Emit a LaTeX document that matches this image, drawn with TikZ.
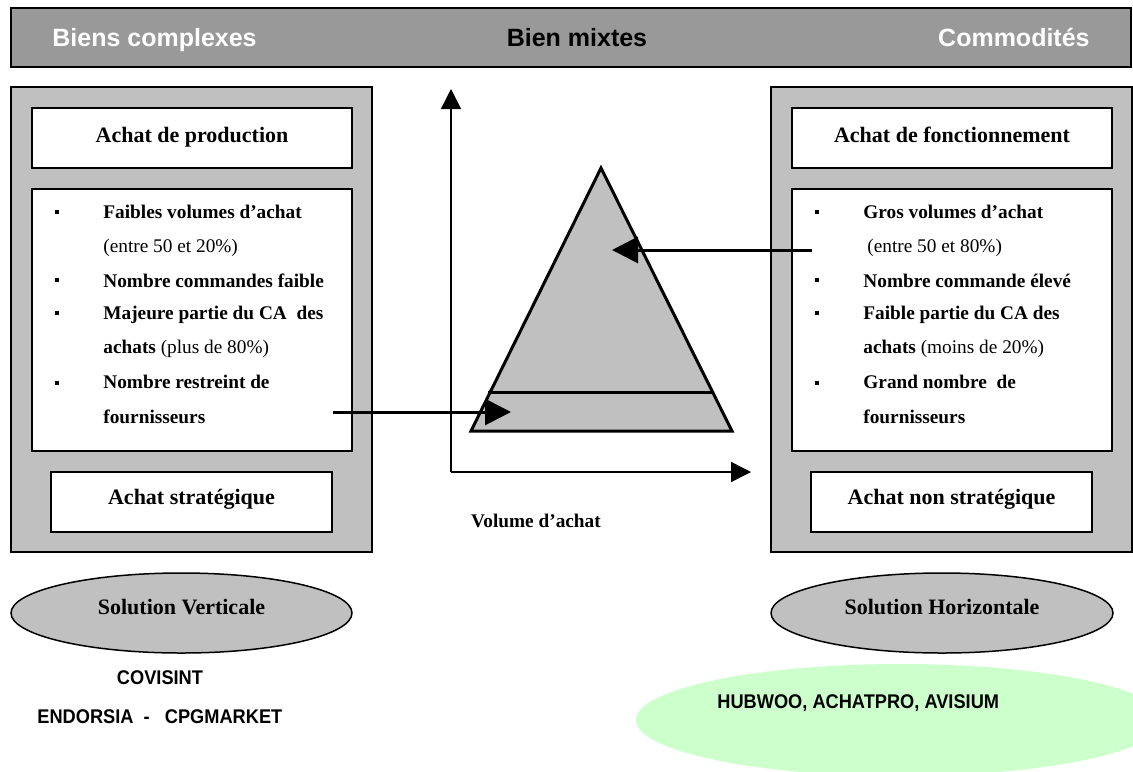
\documentclass[tikz,border=0pt]{standalone}
\usepackage{fontspec}
\setmainfont{Liberation Serif}
\newfontfamily\arialcond{Liberation Sans}[FakeStretch=0.92]
\newfontfamily\arialban{Liberation Sans}
\usetikzlibrary{arrows.meta,shapes.geometric}
\definecolor{bannergray}{HTML}{999999}
\definecolor{panelgray}{HTML}{C0C0C0}
\definecolor{lightgreen}{HTML}{CCFFCC}
\begin{document}
\begin{tikzpicture}[x=0.5pt,y=-0.5pt,
  panel/.style={draw=black,line width=0.75pt,fill=panelgray,minimum width=180.5pt,minimum height=232.5pt,inner sep=0pt},
  wbox/.style={draw=black,line width=0.75pt,fill=white,inner sep=0pt},
  hdr/.style={font=\fontsize{11}{13}\selectfont\bfseries,anchor=base,inner sep=0pt},
  body/.style={font=\fontsize{9.65}{12}\selectfont,anchor=base west,inner sep=0pt},
  bul/.style={fill=black,inner sep=0pt,minimum size=2.3pt},
  ban/.style={font=\fontsize{12.5}{15}\selectfont\arialban\bfseries,inner sep=0pt},
  sol/.style={draw=black,line width=0.75pt,fill=panelgray,ellipse,inner sep=0pt},
  mkt/.style={font=\fontsize{9.9}{12}\selectfont\arialcond\bfseries,inner sep=0pt},
  thickarrow/.style={line width=1.5pt,-{Triangle[length=13pt,width=13pt]}},
  axis/.style={line width=0.75pt,-{Triangle[length=10pt,width=10pt]}}
]
\useasboundingbox (0,0) rectangle (1133,771);
\clip (0,0) rectangle (1133,771);

% banner
\node[draw=black,line width=0.75pt,fill=bannergray,minimum width=560pt,minimum height=29.5pt,inner sep=0pt] (banner) at (571,37.5) {};
\node[ban,text=white,anchor=base west] (bc) at (52,46) {Biens complexes};
\node[ban,text=black,anchor=base] (bm) at (577,46) {Bien mixtes};
\node[ban,text=white,anchor=base east] (cm) at (1090,46) {Commodités};

% left panel
\node[panel] (lp) at (191.5,319.5) {};
\node[wbox,minimum width=160pt,minimum height=30pt] (lb1) at (192,138) {};
\node[wbox,minimum width=160pt,minimum height=131pt] (lb2) at (192,320) {};
\node[wbox,minimum width=140.5pt,minimum height=30pt] (lb3) at (191.5,502) {};
\node[hdr] (lh1) at (192,142) {Achat de production};
\node[hdr] (lh3) at (191.5,504) {Achat stratégique};
\node[bul] (lu1) at (57,212) {};
\node[bul] (lu2) at (57,280) {};
\node[bul] (lu3) at (57,313) {};
\node[bul] (lu4) at (57,383) {};
\node[body] (lt1) at (103,218) {\textbf{Faibles volumes d’achat}};
\node[body] (lt2) at (103,252) {(entre 50 et 20\%)};
\node[body] (lt3) at (103,287) {\textbf{Nombre commandes faible}};
\node[body] (lt4) at (103,319) {\textbf{Majeure partie du CA\ \ des}};
\node[body] (lt5) at (103,353) {\textbf{achats} (plus de 80\%)};
\node[body] (lt6) at (103,388) {\textbf{Nombre restreint de}};
\node[body] (lt7) at (103,423) {\textbf{fournisseurs}};

% right panel
\node[panel] (rp) at (951.5,319.5) {};
\node[wbox,minimum width=160pt,minimum height=30pt] (rb1) at (952,138) {};
\node[wbox,minimum width=160pt,minimum height=131pt] (rb2) at (952,320) {};
\node[wbox,minimum width=140.5pt,minimum height=30pt] (rb3) at (951.5,502) {};
\node[hdr] (rh1) at (952,142) {Achat de fonctionnement};
\node[hdr] (rh3) at (951.5,504) {Achat non stratégique};
\node[bul] (ru1) at (817,212) {};
\node[bul] (ru2) at (817,280) {};
\node[bul] (ru3) at (817,313) {};
\node[bul] (ru4) at (817,383) {};
\node[body] (rt1) at (863,218) {\textbf{Gros volumes d’achat}};
\node[body] (rt2) at (867,252) {(entre 50 et 80\%)};
\node[body] (rt3) at (863,287) {\textbf{Nombre commande élevé}};
\node[body] (rt4) at (863,319) {\textbf{Faible partie du CA des}};
\node[body] (rt5) at (863,353) {\textbf{achats} (moins de 20\%)};
\node[body] (rt6) at (863,388) {\textbf{Grand nombre\ \ de}};
\node[body] (rt7) at (863,423) {\textbf{fournisseurs}};

% axes
\coordinate (O) at (451,472);
\coordinate (Ytop) at (451,89);
\coordinate (Xend) at (751,472);
\draw[axis] (O) -- (Ytop);
\draw[axis] (O) -- (Xend);
\node[font=\fontsize{9.65}{12}\selectfont\bfseries,anchor=base,inner sep=0pt] (vol) at (536,527) {Volume d’achat};

% pyramid
\coordinate (apex) at (601,168);
\coordinate (bl) at (471,431);
\coordinate (br) at (732,431);
\coordinate (ml) at (488,392);
\coordinate (mr) at (714,392);
\draw[line width=1.5pt,fill=panelgray,line join=miter] (apex) -- (br) -- (bl) -- cycle;
\draw[line width=1.5pt] (ml) -- (mr);

% arrows
\coordinate (la) at (333,412);
\coordinate (lat) at (511,412);
\coordinate (ra) at (812,250);
\coordinate (rat) at (612,250);
\draw[thickarrow] (la) -- (lat);
\draw[thickarrow] (ra) -- (rat);

% solutions
\node[sol,minimum width=170.5pt,minimum height=40pt] (sv) at (181.5,613) {};
\node[hdr] (svt) at (181.5,614) {Solution Verticale};
\node[sol,minimum width=171pt,minimum height=40pt] (sh) at (942,613) {};
\node[hdr] (sht) at (942,614) {Solution Horizontale};
\node[ellipse,fill=lightgreen,minimum width=264pt,minimum height=56pt,inner sep=0pt] (green) at (900,720) {};

\node[mkt,anchor=base] (cov) at (160,684) {COVISINT};
\node[mkt,anchor=base west] (end) at (37,723) {ENDORSIA\ \ -\ \ \ CPGMARKET};
\node[mkt,anchor=base west] (hub) at (717,708) {HUBWOO, ACHATPRO, AVISIUM};
\end{tikzpicture}
\end{document}
